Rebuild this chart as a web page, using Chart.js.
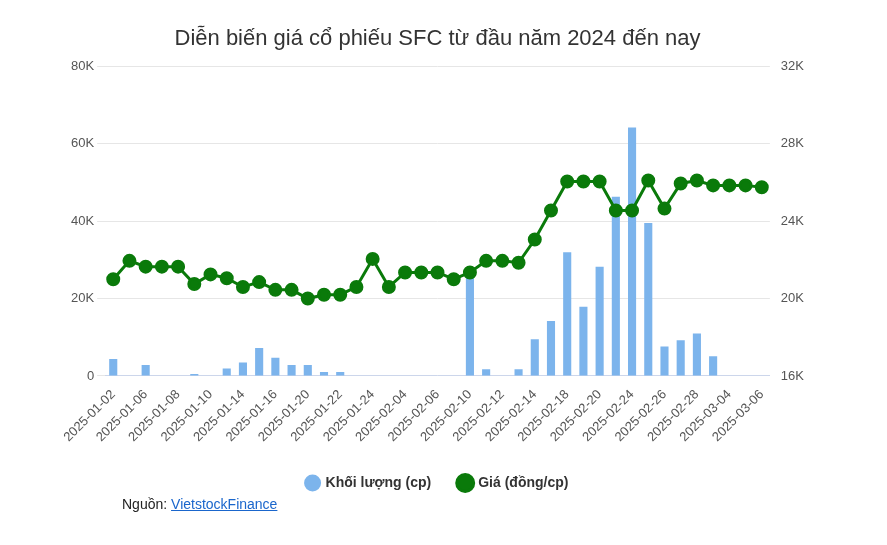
<!DOCTYPE html>
<html><head><meta charset="utf-8">
<script src="https://cdn.jsdelivr.net/npm/chart.js@4"></script>
<style>
body{margin:0;background:#fff;font-family:"Liberation Sans",Arial,sans-serif;}
#wrap{position:relative;width:887px;height:545px;}
#src{position:absolute;left:122px;top:496px;font-size:14px;color:#222;}
#src a{color:#1a66cc;text-decoration:underline;}
</style></head><body>
<div id="wrap"><canvas id="c" width="887" height="500"></canvas>
<div id="src">Nguồn: <a>VietstockFinance</a></div></div>
<script>
const categories=["2025-01-02","2025-01-03","2025-01-06","2025-01-07","2025-01-08","2025-01-09","2025-01-10","2025-01-13","2025-01-14","2025-01-15","2025-01-16","2025-01-17","2025-01-20","2025-01-21","2025-01-22","2025-01-23","2025-01-24","2025-02-03","2025-02-04","2025-02-05","2025-02-06","2025-02-07","2025-02-10","2025-02-11","2025-02-12","2025-02-13","2025-02-14","2025-02-17","2025-02-18","2025-02-19","2025-02-20","2025-02-21","2025-02-24","2025-02-25","2025-02-26","2025-02-27","2025-02-28","2025-03-03","2025-03-04","2025-03-05","2025-03-06"];
const volume=[4350,0,2850,0,0,500,0,1900,3500,7200,4700,2850,2850,1000,1000,0,0,0,0,0,0,0,26100,1700,0,1700,9500,14200,32000,17900,28200,46300,64200,39500,7600,9200,11000,5100,0,0,0];
const price=[21000,21950,21650,21650,21650,20750,21250,21050,20600,20850,20450,20450,20000,20200,20200,20600,22050,20600,21350,21350,21350,21000,21350,21950,21950,21850,23050,24550,26050,26050,26050,24550,24550,26100,24650,25950,26100,25850,25850,25850,25750];
new Chart(document.getElementById('c'),{
 data:{labels:categories,datasets:[
  {type:'line',label:'Giá (đồng/cp)',data:price,yAxisID:'y1',borderColor:'#0a7a0a',backgroundColor:'#0a7a0a',borderWidth:3,pointRadius:5.5,pointHoverRadius:5.5,order:0},
  {type:'bar',label:'Khối lượng (cp)',data:volume,yAxisID:'y',backgroundColor:'#7cb4ec',barPercentage:0.5,categoryPercentage:1,order:1}
 ]},
 options:{responsive:false,animation:false,
  layout:{padding:{left:68,right:80,top:4,bottom:0}},
  plugins:{title:{display:true,text:'Diễn biến giá cổ phiếu SFC từ đầu năm 2024 đến nay',color:'#333',font:{size:22,weight:'normal'},padding:{top:22,bottom:14}},
   legend:{position:'bottom',reverse:true,labels:{usePointStyle:true,boxWidth:12,boxHeight:12,color:'#333',font:{size:14,weight:'bold'},padding:28}},tooltip:{enabled:false}},
  scales:{
   x:{grid:{display:false},border:{color:'#ccd6eb'},ticks:{color:'#555',font:{size:13},maxRotation:45,minRotation:45,autoSkip:false,callback:function(v,i){return i%2===0?categories[i]:'';}}},
   y:{position:'left',min:0,max:80000,ticks:{stepSize:20000,color:'#555',font:{size:13},callback:v=>v===0?'0':(v/1000)+'K'},grid:{color:'#e6e6e6'},border:{display:false}},
   y1:{position:'right',min:16000,max:32000,ticks:{stepSize:4000,color:'#555',font:{size:13},callback:v=>(v/1000)+'K'},grid:{display:false},border:{display:false}}
  }}
});
</script></body></html>
